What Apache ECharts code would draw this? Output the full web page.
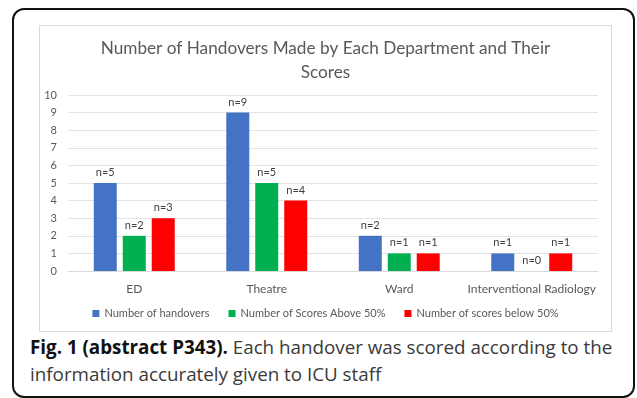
<!DOCTYPE html>
<html><head><meta charset="utf-8">
<script src="https://cdn.jsdelivr.net/npm/echarts@6/dist/echarts.min.js"></script>
<style>
html,body{margin:0;padding:0;background:#fff;width:637px;height:398px;overflow:hidden;}
#frame{position:absolute;left:12px;top:8px;width:623px;height:390px;border:2px solid #111;border-radius:12px;box-sizing:border-box;}
#chart{position:absolute;left:39px;top:25px;width:573px;height:307px;border:1px solid #d9d9d9;box-sizing:border-box;}
#cap{position:absolute;left:30px;top:334px;width:600px;font-family:"Open Sans",sans-serif;font-size:18.8px;line-height:27px;color:#3a3a3a;white-space:nowrap;}
#cap b{color:#111;font-weight:700;}
</style></head>
<body>
<div id="frame"></div>
<div id="chart"></div>
<div id="cap"><b>Fig. 1 (abstract P343).</b> Each handover was scored according to the<br>information accurately given to ICU staff</div>
<script>
const titleText = 'Number of Handovers Made by Each Department and Their\nScores';
const categories = ['ED', 'Theatre', 'Ward', 'Interventional Radiology'];
const seriesNames = ['Number of handovers', 'Number of Scores Above 50%', 'Number of scores below 50%'];
const handovers = [5, 9, 2, 1];
const above50 = [2, 5, 1, 0];
const below50 = [3, 4, 1, 1];
const colors = ['#4472C4', '#00B050', '#FF0000'];

const chart = echarts.init(document.getElementById('chart'));
const font = 'Lato, "Open Sans", sans-serif';
const label = {show: true, position: 'top', distance: 5, fontSize: 11, color: '#404040', fontFamily: font, formatter: p => 'n=' + p.value};
const mk = (name, data, i) => ({
  name, type: 'bar', data, barWidth: 23, barGap: '26%',
  itemStyle: {color: colors[i]}, label
});
chart.setOption({
  animation: false,
  textStyle: {fontFamily: font},
  title: {text: titleText, left: 'center', top: 5,
    textStyle: {fontSize: 17.2, fontWeight: 'normal', color: '#595959', lineHeight: 24, fontFamily: font}},
  grid: {left: 28, right: 13, top: 69, bottom: 60},
  legend: {bottom: 7, left: 'center', itemWidth: 7, itemHeight: 7, itemGap: 19, icon: 'rect',
    textStyle: {fontSize: 11, color: '#595959', fontFamily: font}, data: seriesNames},
  xAxis: {type: 'category', data: categories,
    axisLine: {lineStyle: {color: '#d9d9d9'}}, axisTick: {show: false},
    axisLabel: {fontSize: 12, color: '#595959', margin: 12, interval: 0, fontFamily: font}},
  yAxis: {type: 'value', min: 0, max: 10, interval: 1,
    axisLabel: {fontSize: 11, color: '#595959', margin: 11, fontFamily: font},
    splitLine: {lineStyle: {color: '#e3e3e3'}}},
  series: [mk(seriesNames[0], handovers, 0), mk(seriesNames[1], above50, 1), mk(seriesNames[2], below50, 2)]
});
</script>
</body></html>
